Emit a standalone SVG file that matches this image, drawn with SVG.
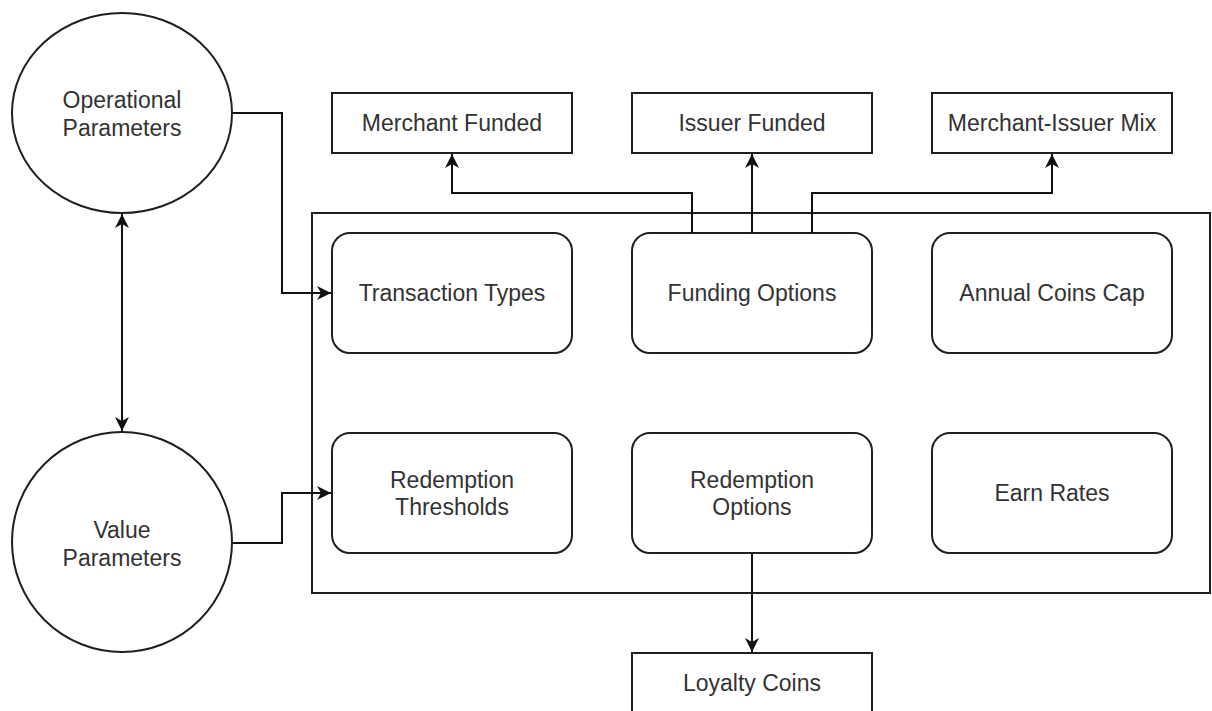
<svg xmlns="http://www.w3.org/2000/svg" width="1212" height="711" viewBox="0 0 1212 711">
<style>
.shape{fill:#ffffff;stroke:#1f1f1f;stroke-width:2}
.frame{fill:none;stroke:#1f1f1f;stroke-width:2}
.lbl{font-family:"Liberation Sans",Arial,sans-serif;font-size:23px;fill:#333333;text-anchor:middle}
.edge{fill:none;stroke:#111111;stroke-width:2}
</style>
<defs>
<marker id="arr" markerUnits="userSpaceOnUse" markerWidth="16" markerHeight="16" viewBox="0 0 16 16" refX="15" refY="8" orient="auto-start-reverse">
<path d="M1,1 L15,8 L1,15 L5,8 Z" fill="#111111"/>
</marker>
</defs>
<rect width="1212" height="711" fill="#ffffff"/>
<g id="container">
<rect class="frame" x="312" y="213" width="898" height="380"/>
</g>
<g id="operational-parameters">
<ellipse class="shape" cx="122" cy="113" rx="110" ry="100"/>
<text class="lbl" x="122" y="108">Operational</text>
<text class="lbl" x="122" y="136">Parameters</text>
</g>
<g id="value-parameters">
<ellipse class="shape" cx="122" cy="542" rx="110" ry="110"/>
<text class="lbl" x="122" y="538">Value</text>
<text class="lbl" x="122" y="566">Parameters</text>
</g>
<g id="merchant-funded">
<rect class="shape" x="332" y="93" width="240" height="60"/>
<text class="lbl" x="452" y="131">Merchant Funded</text>
</g>
<g id="issuer-funded">
<rect class="shape" x="632" y="93" width="240" height="60"/>
<text class="lbl" x="752" y="131">Issuer Funded</text>
</g>
<g id="merchant-issuer-mix">
<rect class="shape" x="932" y="93" width="240" height="60"/>
<text class="lbl" x="1052" y="131">Merchant-Issuer Mix</text>
</g>
<g id="transaction-types">
<rect class="shape" x="332" y="233" width="240" height="120" rx="18" ry="18"/>
<text class="lbl" x="452" y="301">Transaction Types</text>
</g>
<g id="funding-options">
<rect class="shape" x="632" y="233" width="240" height="120" rx="18" ry="18"/>
<text class="lbl" x="752" y="301">Funding Options</text>
</g>
<g id="annual-coins-cap">
<rect class="shape" x="932" y="233" width="240" height="120" rx="18" ry="18"/>
<text class="lbl" x="1052" y="301">Annual Coins Cap</text>
</g>
<g id="redemption-thresholds">
<rect class="shape" x="332" y="433" width="240" height="120" rx="18" ry="18"/>
<text class="lbl" x="452" y="488">Redemption</text>
<text class="lbl" x="452" y="515">Thresholds</text>
</g>
<g id="redemption-options">
<rect class="shape" x="632" y="433" width="240" height="120" rx="18" ry="18"/>
<text class="lbl" x="752" y="488">Redemption</text>
<text class="lbl" x="752" y="515">Options</text>
</g>
<g id="earn-rates">
<rect class="shape" x="932" y="433" width="240" height="120" rx="18" ry="18"/>
<text class="lbl" x="1052" y="501">Earn Rates</text>
</g>
<g id="loyalty-coins">
<rect class="shape" x="632" y="653" width="240" height="60"/>
<text class="lbl" x="752" y="691">Loyalty Coins</text>
</g>
<g id="connectors">
<path class="edge" d="M232,113 H282 V293 H331" marker-end="url(#arr)"/>
<path class="edge" d="M232,543 H282 V493 H331" marker-end="url(#arr)"/>
<path class="edge" d="M122,214 V431" marker-start="url(#arr)" marker-end="url(#arr)"/>
<path class="edge" d="M692,233 V193 H452 V154" marker-end="url(#arr)"/>
<path class="edge" d="M752,233 V154" marker-end="url(#arr)"/>
<path class="edge" d="M812,233 V193 H1052 V154" marker-end="url(#arr)"/>
<path class="edge" d="M752,553 V652" marker-end="url(#arr)"/>
</g>
</svg>
